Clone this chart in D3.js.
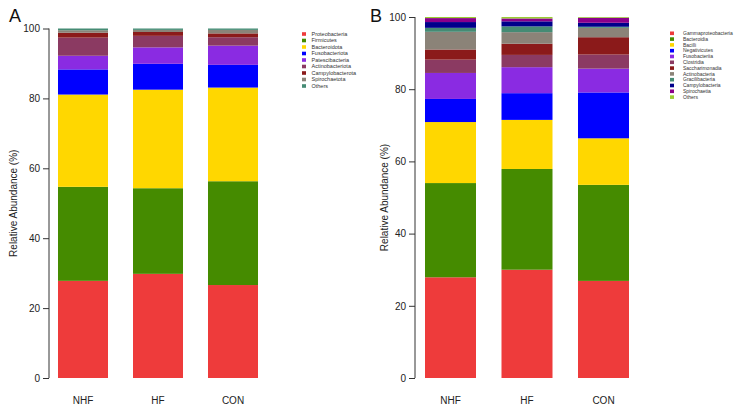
<!DOCTYPE html>
<html lang="en">
<head>
<meta charset="utf-8">
<title>Relative Abundance</title>
<script src="https://d3js.org/d3.v7.min.js"></script>
<style>
  body { margin: 0; background: #fff; }
  text { font-family: "Liberation Sans", Arial, sans-serif; }
  .tick text { font-size: 10px; fill: #222; }
  .ylab { font-size: 10px; fill: #222; }
  .panel { font-size: 18px; fill: #111; }
  .legend text { fill: #333; }
</style>
</head>
<body>
<div id="vis"></div>
<script>
const groups = ["NHF", "HF", "CON"];

// Panel A: phylum level
const phylaA = ["Proteobacteria", "Firmicutes", "Bacteroidota", "Fusobacteriota", "Patescibacteria",
                "Actinobacteriota", "Campylobacterota", "Spirochaetota", "Others"];
const nhfA = [27.8, 26.9, 26.4, 7.2, 3.9, 5.2, 1.4, 0.7, 0.5];
const hfA  = [29.8, 24.5, 28.2, 7.4, 4.7, 3.3, 1.1, 0.6, 0.4];
const conA = [26.6, 29.7, 26.8, 6.5, 5.5, 2.4, 1.1, 1.0, 0.4];

// Panel B: class level
const classesB = ["Gammaproteobacteria", "Bacteroidia", "Bacilli", "Negativicutes", "Fusobacteriia", "Clostridia",
                  "Saccharimonadia", "Actinobacteria", "Gracilibacteria", "Campylobacteria", "Spirochaetia", "Others"];
const nhfB = [27.9, 26.1, 16.9, 6.4, 7.2, 3.7, 2.8, 4.9, 1.1, 1.6, 1.1, 0.3];
const hfB  = [30.0, 27.9, 13.6, 7.4, 7.2, 3.4, 3.1, 3.2, 1.6, 1.4, 0.8, 0.4];
const conB = [26.9, 26.6, 12.9, 12.7, 6.6, 3.9, 4.8, 2.6, 0.3, 1.1, 1.4, 0.2];

const yTicks = [0, 20, 40, 60, 80, 100];

const colorsA = ["#EE3B3B", "#458B00", "#FFD700", "#0000FF", "#8A2BE2", "#8B3A62", "#8B1A1A", "#8B8378", "#458B74"];
const colorsB = ["#EE3B3B", "#458B00", "#FFD700", "#0000FF", "#8A2BE2", "#8B3A62", "#8B1A1A", "#8B8378",
                 "#458B74", "#00008B", "#8B008B", "#9ACD32"];

const width = 744, height = 406;

const svg = d3.select("#vis")
              .append("svg")
              .attr("width", width)
              .attr("height", height);

function drawPanel(opt) {
    const table = groups.map((g, i) => {
        const row = { group: g };
        opt.keys.forEach((k, j) => row[k] = opt.values[i][j]);
        return row;
    });

    const series = d3.stack().keys(opt.keys)(table);

    const xScale = d3.scaleBand()
                     .domain(groups)
                     .range(opt.xRange)
                     .paddingInner(1/3)
                     .paddingOuter(1/6);

    const yScale = d3.scaleLinear()
                     .domain([0, 100])
                     .range(opt.yRange);

    const color = d3.scaleOrdinal().domain(opt.keys).range(opt.colors);

    //stacked bars
    svg.append("g")
       .selectAll("g")
       .data(series)
       .enter()
       .append("g")
       .attr("fill", d => color(d.key))
       .selectAll("rect")
       .data(d => d)
       .enter()
       .append("rect")
       .attr("x", d => xScale(d.data.group))
       .attr("y", d => yScale(d[1]))
       .attr("width", xScale.bandwidth())
       .attr("height", d => yScale(d[0]) - yScale(d[1]));

    //left axis
    const leftAxis = d3.axisLeft(yScale)
                       .tickValues(yTicks)
                       .tickSize(6)
                       .tickPadding(3);
    const ax = svg.append("g")
                  .attr("transform", "translate(" + opt.axisX + ",0)")
                  .call(leftAxis);
    ax.select(".domain").attr("stroke", "#333").attr("d", "M0," + yScale(0) + "V" + yScale(100));
    ax.selectAll(".tick line").attr("stroke", "#333");

    //group labels
    svg.append("g")
       .selectAll("text")
       .data(groups)
       .enter()
       .append("text")
       .attr("x", d => xScale(d) + xScale.bandwidth() / 2)
       .attr("y", 404)
       .attr("text-anchor", "middle")
       .attr("font-size", "10px")
       .attr("fill", "#222")
       .text(d => d);

    //y label
    svg.append("text")
       .attr("class", "ylab")
       .attr("transform", "translate(" + opt.yLabX + "," + ((yScale(0) + yScale(100)) / 2) + ") rotate(-90)")
       .attr("text-anchor", "middle")
       .text("Relative Abundance (%)");

    //panel letter
    svg.append("text")
       .attr("class", "panel")
       .attr("x", opt.letterX)
       .attr("y", 22)
       .text(opt.letter);

    //legend
    const lg = svg.append("g").attr("class", "legend");
    const items = lg.selectAll("g")
                    .data(opt.keys)
                    .enter()
                    .append("g")
                    .attr("transform", (d, i) => "translate(" + opt.legX + "," + (opt.legY + i * opt.legStep) + ")");
    items.append("rect")
         .attr("x", 0)
         .attr("y", -1.8)
         .attr("width", 4)
         .attr("height", 3.6)
         .attr("fill", d => color(d));
    items.append("text")
         .attr("x", opt.legTextDx)
         .attr("y", 0)
         .attr("dy", "0.35em")
         .attr("font-size", opt.legFont)
         .text(d => d);
}

drawPanel({
    keys: phylaA, values: [nhfA, hfA, conA], colors: colorsA,
    xRange: [45.5, 270.5], yRange: [378, 28.5], axisX: 49, yLabX: 17,
    letter: "A", letterX: 9,
    legX: 302, legY: 34, legStep: 6.5, legTextDx: 9.5, legFont: "5.5px"
});

drawPanel({
    keys: classesB, values: [nhfB, hfB, conB], colors: colorsB,
    xRange: [412.25, 641.75], yRange: [378, 17], axisX: 415, yLabX: 388,
    letter: "B", letterX: 370,
    legX: 670, legY: 33.3, legStep: 5.8, legTextDx: 13, legFont: "5px"
});
</script>
</body>
</html>
